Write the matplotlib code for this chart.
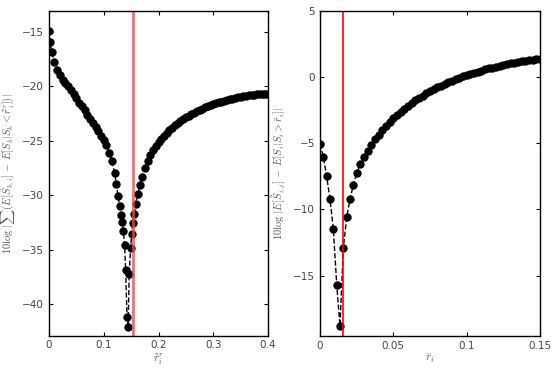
import matplotlib
matplotlib.use("Agg")
import matplotlib.pyplot as plt

plt.rcParams["mathtext.fontset"] = "cm"

# left panel: threshold r~_i^r vs error (dB)
left_x = [0, 0.002, 0.005, 0.01, 0.015, 0.02, 0.025, 0.03, 0.035, 0.04,
          0.045, 0.05, 0.055, 0.06, 0.065, 0.07, 0.075, 0.08, 0.085, 0.09,
          0.095, 0.1, 0.105, 0.11, 0.115, 0.12, 0.123, 0.126, 0.129, 0.131,
          0.134, 0.136, 0.138, 0.140, 0.1425, 0.1445, 0.1465, 0.149, 0.151,
          0.153, 0.156, 0.159, 0.162, 0.166, 0.17, 0.175, 0.18, 0.185, 0.19,
          0.195, 0.2, 0.205, 0.21, 0.215, 0.22, 0.225, 0.23, 0.235, 0.24,
          0.245, 0.25, 0.255, 0.26, 0.265, 0.27, 0.275, 0.28, 0.285, 0.29,
          0.295, 0.3, 0.305, 0.31, 0.315, 0.32, 0.325, 0.33, 0.335, 0.34,
          0.345, 0.35, 0.355, 0.36, 0.365, 0.37, 0.375, 0.38, 0.385, 0.39,
          0.395, 0.4]
left_y = [-14.9, -15.9, -16.9, -17.8, -18.5, -19.0, -19.4, -19.7, -20.0, -20.35,
          -20.7, -21.1, -21.5, -21.85, -22.2, -22.6, -23.0, -23.35, -23.75, -24.15,
          -24.55, -24.9, -25.4, -26.1, -26.9, -28.0, -29.0, -30.1, -31.0, -31.8,
          -32.5, -33.3, -34.6, -36.9, -41.2, -42.1, -37.2, -34.9, -33.6,
          -32.6, -31.7, -30.8, -29.9, -29.1, -28.3, -27.5, -26.9, -26.35, -25.9,
          -25.5, -25.15, -24.85, -24.55, -24.3, -24.05, -23.8, -23.6, -23.4, -23.2,
          -23.0, -22.85, -22.7, -22.55, -22.42, -22.3, -22.18, -22.06, -21.95, -21.85,
          -21.75, -21.65, -21.57, -21.49, -21.41, -21.34, -21.27, -21.2, -21.14, -21.08,
          -21.03, -20.98, -20.93, -20.89, -20.85, -20.82, -20.79, -20.76, -20.74, -20.72,
          -20.7, -20.68]
left_opt = 0.1525

# right panel: threshold r-bar_i vs error (dB)
right_x = [0, 0.0023, 0.0045, 0.0068, 0.0091, 0.0114, 0.0136, 0.0159, 0.0182,
           0.0205, 0.0227, 0.025, 0.0275, 0.03, 0.0325, 0.035, 0.0375, 0.04,
           0.0425, 0.045, 0.0475, 0.05, 0.0525, 0.055, 0.0575, 0.06, 0.0625,
           0.065, 0.0675, 0.07, 0.0725, 0.075, 0.0775, 0.08, 0.0825, 0.085,
           0.0875, 0.09, 0.0925, 0.095, 0.0975, 0.1, 0.1025, 0.105, 0.1075,
           0.11, 0.1125, 0.115, 0.1175, 0.12, 0.1225, 0.125, 0.1275, 0.13,
           0.1325, 0.135, 0.1375, 0.14, 0.1425, 0.145, 0.1475, 0.15]
right_y = [-5.05, -6.0, -7.5, -9.2, -11.5, -15.7, -18.8, -12.9, -10.6,
           -9.2, -8.15, -7.25, -6.6, -6.05, -5.55, -5.1, -4.7, -4.35,
           -4.0, -3.7, -3.4, -3.1, -2.85, -2.6, -2.38, -2.16, -1.95,
           -1.76, -1.58, -1.4, -1.23, -1.07, -0.92, -0.78, -0.64, -0.51,
           -0.39, -0.27, -0.16, -0.05, 0.05, 0.15, 0.24, 0.33, 0.42,
           0.5, 0.58, 0.66, 0.73, 0.8, 0.87, 0.93, 0.99, 1.05,
           1.1, 1.15, 1.2, 1.24, 1.28, 1.31, 1.34, 1.37]
right_opt = 0.0155

fig = plt.figure(figsize=(5.55, 3.68), dpi=100)
ax1 = fig.add_axes([0.0883, 0.088, 0.3946, 0.882])
ax2 = fig.add_axes([0.5766, 0.086, 0.3964, 0.884])

for ax in (ax1, ax2):
    ax.tick_params(direction="in", top=True, right=True, labelsize=7.5,
                   labelcolor="#444444", length=3, width=0.8)
    for s in ax.spines.values():
        s.set_linewidth(1.0)

mk = dict(marker="o", markersize=5.2, markeredgewidth=0.8,
          markerfacecolor="black", markeredgecolor="black")

ax1.plot(left_x, left_y, "k--", lw=1, **mk)
ax1.axvline(left_opt, color="#e85050", lw=2, alpha=0.8)
ax1.set_xlim(0, 0.4)
ax1.set_ylim(-42.9, -13.1)
ax1.set_xticks([0, 0.1, 0.2, 0.3, 0.4])
ax1.set_xticklabels(["0", "0.1", "0.2", "0.3", "0.4"])
ax1.set_yticks([-40, -35, -30, -25, -20, -15])
ax1.set_xlabel(r"$\tilde{r}_i^r$", fontsize=8, color="#555555", labelpad=1)
ax1.set_ylabel(r"$10\log\,|\sum(E[\tilde{S}_{k,i}]\,-\,E[S_k|S_k<\tilde{r}_i^r])|$",
               fontsize=7.5, color="#555555", labelpad=4)

ax2.plot(right_x, right_y, "k--", lw=1, **mk)
ax2.axvline(right_opt, color="red", lw=1.2)
ax2.set_xlim(0, 0.15)
ax2.set_ylim(-19.6, 5)
ax2.set_xticks([0, 0.05, 0.1, 0.15])
ax2.set_xticklabels(["0", "0.05", "0.1", "0.15"])
ax2.set_yticks([-15, -10, -5, 0, 5])
ax2.set_xlabel(r"$\bar{r}_i$", fontsize=8, color="#555555", labelpad=1)
ax2.set_ylabel(r"$10\log\,|E[\tilde{S}_{i,j}]\,-\,E[S_i|S_i>\bar{r}_i]|$",
               fontsize=7.5, color="#555555", labelpad=4)

fig.savefig("out.png", dpi=100)
